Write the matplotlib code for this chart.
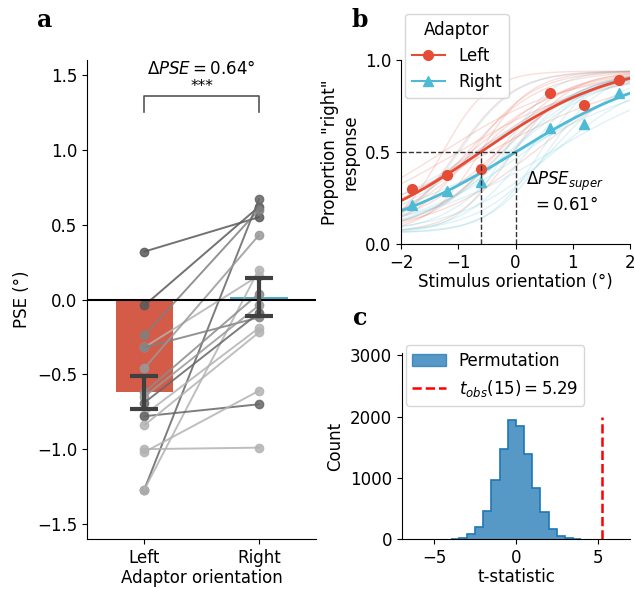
import numpy as np
import matplotlib
matplotlib.use("Agg")
import matplotlib.pyplot as plt

plt.rcParams['font.size'] = 12

# ---- panel a: per-subject PSE (deg) ----
left_pse = [0.32, -0.04, -0.24, -1.27, -1.27, -0.32, -0.32, -0.46,
            -0.62, -0.65, -0.69, -0.77, -0.78, -0.84, -1.00, -1.02]
right_pse = [0.55, 0.62, 0.60, 0.67, 0.20, 0.16, -0.12, 0.43,
             0.04, -0.04, -0.09, -0.19, -0.70, -0.22, -0.99, -0.61]
line_gray = [0.35, 0.35, 0.5, 0.4, 0.7, 0.7, 0.5, 0.6,
             0.55, 0.6, 0.4, 0.7, 0.4, 0.7, 0.7, 0.7]
conds = ['Left', 'Right']
mean_pse = [-0.62, 0.02]
sem_pse = [0.11, 0.127]
bar_colors = ['#D35B48', '#4BAFC5']

# ---- panel b: group psychometric data ----
stim = [-1.8, -1.2, -0.6, 0.6, 1.2, 1.8]
p_left = [0.30, 0.375, 0.41, 0.82, 0.755, 0.89]
p_right = [0.21, 0.29, 0.335, 0.63, 0.65, 0.82]
fit_pse = [-0.61, 0.0]
fit_slope = [1.18, 1.32]
subj_slope = [0.9, 0.5, 0.7, 1.1, 0.4, 0.8, 0.6, 1.3,
              0.45, 0.75, 1.0, 0.55, 0.85, 0.65, 1.2, 0.5]
lapse = 0.06

# ---- panel c: permutation distribution ----
bin_edges = np.arange(-4.0, 4.01, 0.5)
counts = [10, 25, 82, 201, 468, 964, 1476, 1939, 1852, 1389, 844, 447, 174, 54, 22, 5]
t_obs = 5.29

red = '#E64B35'
blue = '#4DBBD5'


def psy(x, mu, s, g=0.0):
    return g + (1 - 2 * g) / (1 + np.exp(-(x - mu) / s))


fig = plt.figure(figsize=(6.35, 5.89), dpi=100)

# ---------------- a ----------------
ax = fig.add_axes([0.137, 0.085, 0.361, 0.813])
xpos = np.arange(len(conds))
ax.bar(xpos, mean_pse, width=0.5, color=bar_colors, zorder=1)
for l, r, g in zip(left_pse, right_pse, line_gray):
    ax.plot([0, 1], [l, r], '-o', color=str(g), lw=1.4, ms=6, alpha=0.85, zorder=2)
ax.errorbar(xpos, mean_pse, yerr=sem_pse, fmt='none', ecolor='#404040',
            elinewidth=3, capsize=10, capthick=3, zorder=4)
ax.axhline(0, color='black', lw=1.5, zorder=3)
ax.plot([0, 0, 1, 1], [1.25, 1.36, 1.36, 1.25], color='#555555', lw=1.2)
ax.text(0.5, 1.37, '***', ha='center', va='bottom', fontsize=11)
ax.text(0.5, 1.54, r'$\Delta PSE = 0.64°$', ha='center', va='center', fontsize=12)
ax.set_xlim(-0.5, 1.5)
ax.set_ylim(-1.6, 1.6)
ax.set_xticks(xpos)
ax.set_xticklabels(conds)
ax.set_yticks([-1.5, -1.0, -0.5, 0.0, 0.5, 1.0, 1.5])
ax.set_xlabel('Adaptor orientation', labelpad=2)
ax.set_ylabel('PSE (°)')
ax.spines['top'].set_visible(False)
ax.spines['right'].set_visible(False)
fig.text(45 / 635, 1 - 20 / 589, 'a', family='DejaVu Serif', weight='bold',
         fontsize=17, ha='center', va='center')

# ---------------- b ----------------
bx = fig.add_axes([0.6315, 1 - 244 / 589, 0.361, 184 / 589])
xs = np.linspace(-2, 2, 200)
for l, s in zip(left_pse, subj_slope):
    bx.plot(xs, psy(xs, l, s, lapse), color=red, lw=1, alpha=0.18)
for r, s in zip(right_pse, subj_slope[::-1]):
    bx.plot(xs, psy(xs, r, s, lapse), color=blue, lw=1, alpha=0.18)
bx.plot(xs, psy(xs, fit_pse[0], fit_slope[0]), color=red, lw=2)
bx.plot(xs, psy(xs, fit_pse[1], fit_slope[1]), color=blue, lw=2)
bx.plot(stim, p_left, 'o', color=red, ms=7)
bx.plot(stim, p_right, '^', color=blue, ms=7)
h1, = bx.plot([], [], '-o', color=red, ms=7, lw=1.5, label='Left')
h2, = bx.plot([], [], '-^', color=blue, ms=7, lw=1.5, label='Right')
bx.plot([-2, fit_pse[1]], [0.5, 0.5], '--', color='#333333', lw=1)
for p in fit_pse:
    bx.plot([p, p], [0, 0.5], '--', color='#333333', lw=1)
bx.text(0.86, 0.285, '$\\Delta PSE_{super}$\n$= 0.61°$', ha='center', va='center',
        multialignment='center', fontsize=12)
bx.set_xlim(-2, 2)
bx.set_ylim(0, 1.0)
bx.set_xticks([-2, -1, 0, 1, 2])
bx.set_yticks([0.0, 0.5, 1.0])
bx.set_xlabel('Stimulus orientation (°)', labelpad=1)
bx.set_ylabel('Proportion "right"\nresponse')
bx.spines['top'].set_visible(False)
bx.spines['right'].set_visible(False)
bx.legend(handles=[h1, h2], title='Adaptor', loc='upper left',
          bbox_to_anchor=(0.017, 1.25), borderaxespad=0, fontsize=12,
          title_fontsize=12)
fig.text(360 / 635, 1 - 20 / 589, 'b', family='DejaVu Serif', weight='bold',
         fontsize=17, ha='center', va='center')

# ---------------- c ----------------
cx = fig.add_axes([0.6325, 1 - 539.3 / 589, 0.36, 186.3 / 589])
cx.stairs(counts, bin_edges, fill=True, color='#1f77b4', alpha=0.75, lw=0)
cx.stairs(counts, bin_edges, color='#1f77b4', lw=1.2)
hp = matplotlib.patches.Patch(facecolor='#1f77b4', alpha=0.75,
                              edgecolor='#1f77b4', label='Permutation')
hl, = cx.plot([t_obs, t_obs], [0, 2000], '--', color='red', lw=1.8,
              label=r'$t_{obs}(15) = 5.29$')
cx.set_xlim(-7, 7)
cx.set_ylim(0, 3040)
cx.set_xticks([-5, 0, 5])
cx.set_yticks([0, 1000, 2000, 3000])
cx.set_xlabel('t-statistic', labelpad=1)
cx.set_ylabel('Count')
cx.spines['top'].set_visible(False)
cx.spines['right'].set_visible(False)
cx.legend(handles=[hp, hl], loc='upper left', bbox_to_anchor=(0.017, 1.043),
          borderaxespad=0, fontsize=12)
fig.text(360 / 635, 1 - 318 / 589, 'c', family='DejaVu Serif', weight='bold',
         fontsize=17, ha='center', va='center')

fig.savefig('out.png', dpi=100)
